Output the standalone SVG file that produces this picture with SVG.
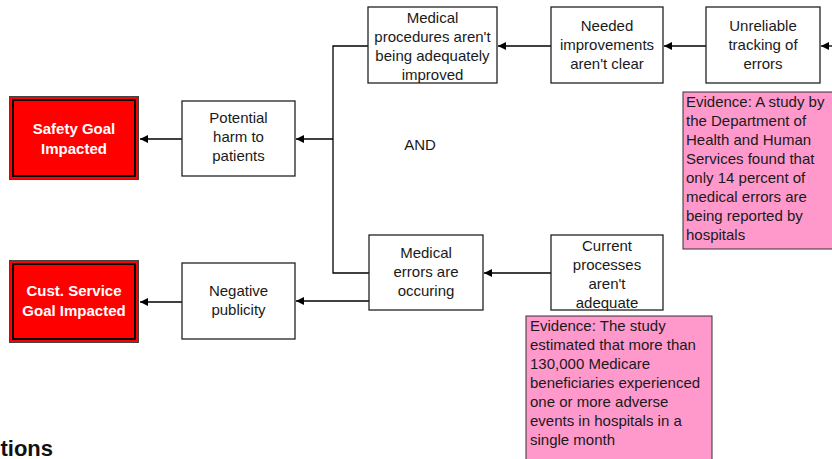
<svg xmlns="http://www.w3.org/2000/svg" width="832" height="459" viewBox="0 0 832 459">
<defs>
<marker id="ah" viewBox="0 0 10 10" refX="10" refY="5" markerWidth="8" markerHeight="8" markerUnits="userSpaceOnUse" orient="auto">
<path d="M0,0 L10,5 L0,10 z" fill="#000"/>
</marker>
<style>
text{font-family:"Liberation Sans",Arial,sans-serif;font-size:15px;fill:#1a1a1a}
.c{text-anchor:middle}
.b{fill:#fff;stroke:#222;stroke-width:1.3}
.goal{fill:#ff0000;stroke:#444;stroke-width:1}
.goalin{fill:none;stroke:#000;stroke-width:2}
.w{fill:#fff;font-weight:bold;text-anchor:middle}
.ev{fill:#ff99cc;stroke:#333;stroke-width:1}
.ln{fill:none;stroke:#000;stroke-width:1.3}
</style>
</defs>
<rect width="832" height="459" fill="#fff"/>
<g id="connectors">
<line class="ln" x1="182" y1="139" x2="140" y2="139" marker-end="url(#ah)"/>
<line class="ln" x1="182" y1="302" x2="140" y2="302" marker-end="url(#ah)"/>
<polyline class="ln" points="368,46 333,46 333,273 369,273"/>
<line class="ln" x1="333" y1="139" x2="296" y2="139" stroke-width="2" marker-end="url(#ah)"/>
<line class="ln" x1="369" y1="301" x2="296" y2="301" marker-end="url(#ah)"/>
<line class="ln" x1="551" y1="46" x2="498" y2="46" marker-end="url(#ah)"/>
<line class="ln" x1="706" y1="46" x2="664" y2="46" marker-end="url(#ah)"/>
<line class="ln" x1="834" y1="46" x2="821" y2="46" marker-end="url(#ah)"/>
<line class="ln" x1="551" y1="273" x2="484" y2="273" marker-end="url(#ah)"/>
</g>
<g id="safety">
<rect class="goal" x="9.5" y="96.5" width="129" height="83"/>
<rect class="goalin" x="13" y="100" width="122" height="76"/>
<text class="w" x="74" y="134">Safety Goal</text>
<text class="w" x="74" y="154">Impacted</text>
</g>
<g id="custservice">
<rect class="goal" x="9.5" y="260.5" width="129" height="82"/>
<rect class="goalin" x="13" y="264" width="122" height="75"/>
<text class="w" x="74" y="296">Cust. Service</text>
<text class="w" x="74" y="316">Goal Impacted</text>
</g>
<g id="harm">
<rect class="b" x="182" y="101" width="113" height="75"/>
<text class="c" x="238.5" y="123">Potential</text>
<text class="c" x="238.5" y="142">harm to</text>
<text class="c" x="238.5" y="161">patients</text>
</g>
<g id="publicity">
<rect class="b" x="182" y="263" width="113" height="76"/>
<text class="c" x="238.5" y="296">Negative</text>
<text class="c" x="238.5" y="315">publicity</text>
</g>
<g id="procedures">
<rect class="b" x="368" y="7" width="129" height="76"/>
<text class="c" x="432.5" y="23">Medical</text>
<text class="c" x="432.5" y="42">procedures aren't</text>
<text class="c" x="432.5" y="61">being adequately</text>
<text class="c" x="432.5" y="80">improved</text>
</g>
<g id="needed">
<rect class="b" x="551" y="7" width="112" height="76"/>
<text class="c" x="607" y="31">Needed</text>
<text class="c" x="607" y="50">improvements</text>
<text class="c" x="607" y="69">aren't clear</text>
</g>
<g id="unreliable">
<rect class="b" x="706" y="7" width="114" height="76"/>
<text class="c" x="763" y="31">Unreliable</text>
<text class="c" x="763" y="50">tracking of</text>
<text class="c" x="763" y="69">errors</text>
</g>
<g id="evidence1">
<rect class="ev" x="683" y="92" width="160" height="157"/>
<text x="686" y="107">Evidence: A study by</text>
<text x="686" y="126">the Department of</text>
<text x="686" y="145">Health and Human</text>
<text x="686" y="164">Services found that</text>
<text x="686" y="183">only 14 percent of</text>
<text x="686" y="202">medical errors are</text>
<text x="686" y="221">being reported by</text>
<text x="686" y="240">hospitals</text>
</g>
<g id="and">
<text class="c" x="420" y="150">AND</text>
</g>
<g id="errors">
<rect class="b" x="369" y="235" width="114" height="75"/>
<text class="c" x="426" y="258">Medical</text>
<text class="c" x="426" y="277">errors are</text>
<text class="c" x="426" y="296">occuring</text>
</g>
<g id="current">
<rect class="b" x="551" y="235" width="112" height="75"/>
<text class="c" x="607" y="251">Current</text>
<text class="c" x="607" y="270">processes</text>
<text class="c" x="607" y="289">aren't</text>
<text class="c" x="607" y="308">adequate</text>
</g>
<g id="evidence2">
<rect class="ev" x="526" y="316" width="186" height="160"/>
<text x="530" y="331">Evidence: The study</text>
<text x="530" y="350">estimated that more than</text>
<text x="530" y="369">130,000 Medicare</text>
<text x="530" y="388">beneficiaries experienced</text>
<text x="530" y="407">one or more adverse</text>
<text x="530" y="426">events in hospitals in a</text>
<text x="530" y="445">single month</text>
</g>
<text x="53" y="456" style="font-size:22px;font-weight:bold;text-anchor:end;fill:#111">tions</text>
</svg>
